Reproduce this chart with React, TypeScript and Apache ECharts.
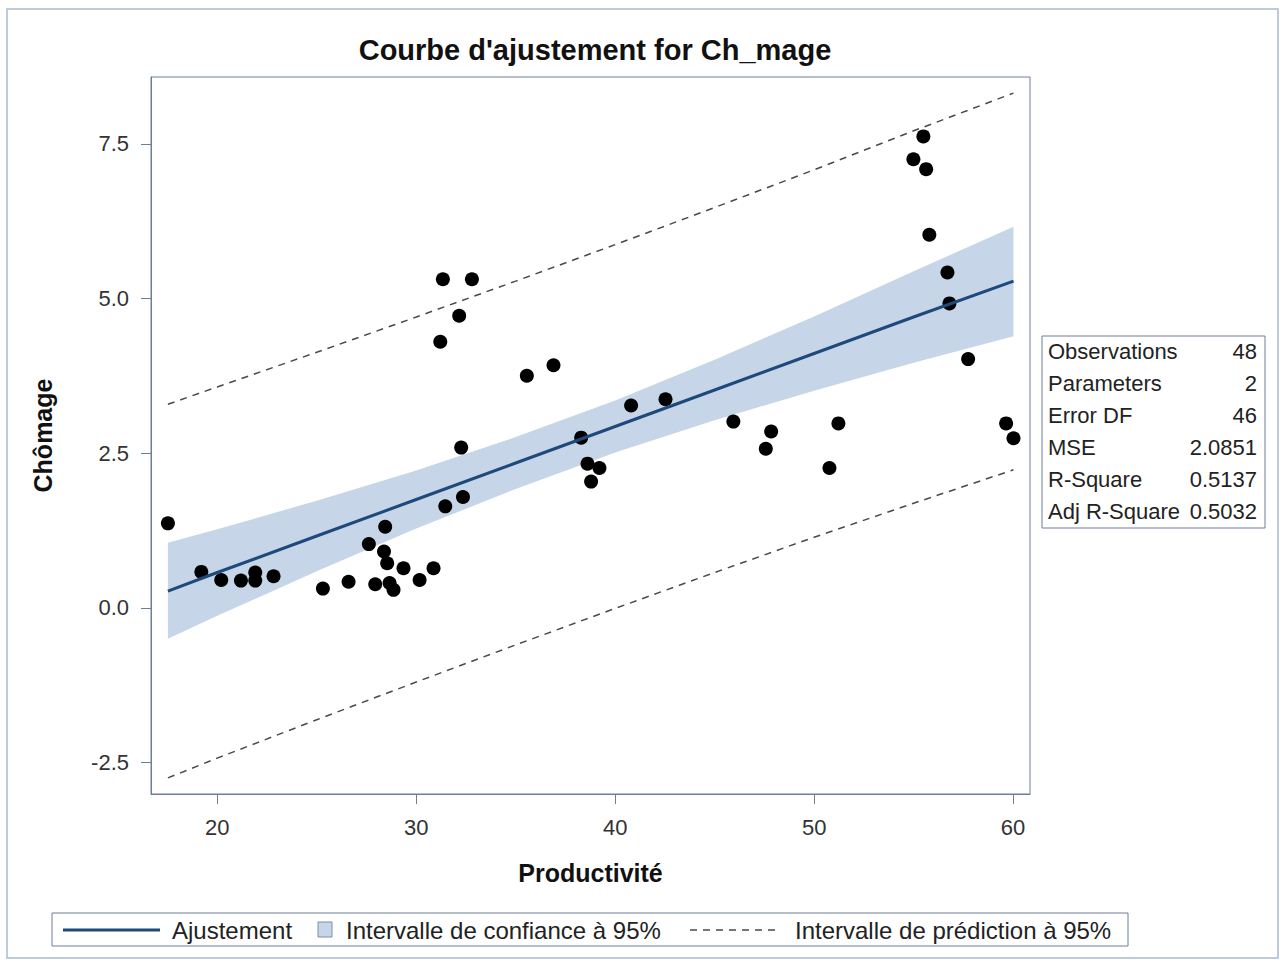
import React, { useEffect, useRef } from "react";
import * as echarts from "echarts";

// Observations (Productivité, Chômage)
const productivite = [
  17.52, 19.2, 20.2, 21.19, 21.91, 21.91, 22.83, 25.31, 26.6, 27.62,
  27.94, 28.38, 28.44, 28.54, 28.66, 28.86, 29.36, 30.17, 30.87, 31.21,
  31.34, 31.46, 32.16, 32.26, 32.35, 32.8, 35.56, 36.9, 38.29, 38.61,
  39.21, 38.79, 40.8, 42.53, 45.94, 47.84, 47.57, 50.77, 51.22, 55.49,
  54.99, 55.63, 55.79, 56.7, 56.8, 57.74, 59.65, 60.02,
];
const chomage = [
  1.365, 0.58, 0.45, 0.44, 0.57, 0.44, 0.51, 0.31, 0.42, 1.03,
  0.38, 0.91, 1.31, 0.72, 0.4, 0.29, 0.64, 0.45, 0.64, 4.3,
  5.31, 1.64, 4.72, 2.59, 1.79, 5.31, 3.75, 3.92, 2.75, 2.33,
  2.26, 2.04, 3.27, 3.37, 3.01, 2.85, 2.57, 2.26, 2.98, 7.62,
  7.25, 7.09, 6.03, 5.42, 4.92, 4.02, 2.98, 2.74,
];

// Fit curve and bands read at these x positions
const fitX = [17.52, 20, 25, 30, 35, 40, 45, 50, 55, 60.02];
const fitY = [0.27, 0.57, 1.16, 1.75, 2.34, 2.93, 3.52, 4.11, 4.7, 5.28];
const clLow = [-0.5, -0.13, 0.59, 1.28, 1.92, 2.51, 3.03, 3.51, 3.96, 4.39];
const clUp = [1.05, 1.27, 1.73, 2.22, 2.76, 3.35, 4.01, 4.71, 5.44, 6.16];
const plLow = [-2.75, -2.43, -1.81, -1.2, -0.6, -0.01, 0.57, 1.14, 1.69, 2.23];
const plUp = [3.29, 3.57, 4.13, 4.7, 5.28, 5.87, 6.47, 7.08, 7.71, 8.32];

const xTicks = [20, 30, 40, 50, 60];
const yTicks = [-2.5, 0, 2.5, 5, 7.5];

const statLabels = ["Observations", "Parameters", "Error DF", "MSE", "R-Square", "Adj R-Square"];
const statValues = ["48", "2", "46", "2.0851", "0.5137", "0.5032"];

const legendLabels = ["Ajustement", "Intervalle de confiance à 95%", "Intervalle de prédiction à 95%"];

const FONT = "'Liberation Sans', Arial, sans-serif";
const FRAME = "#6c7f96";
const FIT_COLOR = "#1d4a7b";
const BAND_COLOR = "#c6d5e7";
const DASH_COLOR = "#4a4a4a";

export default function App() {
  const ref = useRef<HTMLDivElement>(null);

  useEffect(() => {
    if (!ref.current) return;
    const chart = echarts.init(ref.current, null, { renderer: "svg" });

    const gridLeft = 151;
    const gridTop = 77;
    const gridW = 879;
    const gridH = 717;

    const statTop = 336;
    const statRowH = 32;

    const graphic: any[] = [
      // outer frame
      {
        type: "rect",
        shape: { x: 7, y: 9, width: 1271, height: 949 },
        style: { fill: "none", stroke: "#a8bbd0", lineWidth: 1.5 },
        silent: true,
      },
      // stats box
      {
        type: "rect",
        shape: { x: 1042, y: statTop, width: 223, height: statRowH * statLabels.length },
        style: { fill: "#fff", stroke: FRAME, lineWidth: 1 },
        z: 10,
      },
      ...statLabels.map((t, i) => ({
        type: "text",
        x: 1048,
        y: statTop + 15 + i * statRowH,
        z: 11,
        style: { text: t, font: `22px ${FONT}`, fill: "#222", textVerticalAlign: "middle", textAlign: "left" },
      })),
      ...statValues.map((t, i) => ({
        type: "text",
        x: 1257,
        y: statTop + 15 + i * statRowH,
        z: 11,
        style: { text: t, font: `22px ${FONT}`, fill: "#222", textVerticalAlign: "middle", textAlign: "right" },
      })),
      // legend box
      {
        type: "rect",
        shape: { x: 52, y: 913, width: 1076, height: 33 },
        style: { fill: "#fff", stroke: FRAME, lineWidth: 1 },
      },
      {
        type: "line",
        shape: { x1: 63, y1: 930, x2: 160, y2: 930 },
        style: { stroke: FIT_COLOR, lineWidth: 3 },
      },
      {
        type: "text",
        x: 172,
        y: 930,
        style: { text: legendLabels[0], font: `24px ${FONT}`, fill: "#222", textVerticalAlign: "middle" },
      },
      {
        type: "rect",
        shape: { x: 318, y: 922, width: 14, height: 15 },
        style: { fill: BAND_COLOR, stroke: "#7a90ab", lineWidth: 1 },
      },
      {
        type: "text",
        x: 346,
        y: 930,
        style: { text: legendLabels[1], font: `24px ${FONT}`, fill: "#222", textVerticalAlign: "middle" },
      },
      {
        type: "line",
        shape: { x1: 690, y1: 930, x2: 777, y2: 930 },
        style: { stroke: DASH_COLOR, lineWidth: 1.5, lineDash: [7, 6] },
      },
      {
        type: "text",
        x: 795,
        y: 930,
        style: { text: legendLabels[2], font: `24px ${FONT}`, fill: "#222", textVerticalAlign: "middle" },
      },
    ];

    const option: any = {
      animation: false,
      backgroundColor: "#ffffff",
      title: {
        text: "Courbe d'ajustement for Ch_mage",
        left: 590,
        textAlign: "center",
        top: 30,
        textStyle: { fontFamily: FONT, fontSize: 29, fontWeight: "bold", color: "#111" },
      },
      grid: {
        left: gridLeft,
        top: gridTop,
        width: gridW,
        height: gridH,
        show: true,
        borderColor: FRAME,
        borderWidth: 1,
        backgroundColor: "#fff",
        outerBoundsMode: "none",
        containLabel: false,
      },
      xAxis: {
        type: "value",
        min: 16.67,
        max: 60.85,
        name: "Productivité",
        nameLocation: "middle",
        nameGap: 66,
        nameTextStyle: { fontFamily: FONT, fontSize: 25, fontWeight: "bold", color: "#111", verticalAlign: "top" },
        axisLine: { show: true, onZero: false, lineStyle: { color: FRAME, width: 1 } },
        axisTick: { show: true, length: 10, lineStyle: { color: FRAME }, customValues: xTicks },
        axisLabel: { customValues: xTicks, margin: 22, fontFamily: FONT, fontSize: 22, color: "#333" },
        splitLine: { show: false },
      },
      yAxis: {
        type: "value",
        min: -3.01,
        max: 8.58,
        name: "Chômage",
        nameLocation: "middle",
        nameGap: 96,
        nameTextStyle: { fontFamily: FONT, fontSize: 25, fontWeight: "bold", color: "#111" },
        axisLine: { show: true, onZero: false, lineStyle: { color: FRAME, width: 1 } },
        axisTick: { show: true, length: 10, lineStyle: { color: FRAME }, customValues: yTicks },
        axisLabel: {
          customValues: yTicks,
          margin: 22,
          fontFamily: FONT,
          fontSize: 22,
          color: "#333",
          formatter: (v: number) => v.toFixed(1),
        },
        splitLine: { show: false },
      },
      series: [
        {
          type: "custom",
          name: legendLabels[1],
          silent: true,
          z: 1,
          clip: true,
          data: fitX.map((x, i) => [x, clLow[i], clUp[i]]),
          encode: { x: 0, y: [1, 2] },
          renderItem: (params: any, api: any) => {
            if (params.dataIndex !== 0) return null;
            const pts: number[][] = [];
            for (let i = 0; i < fitX.length; i++) pts.push(api.coord([fitX[i], clUp[i]]));
            for (let i = fitX.length - 1; i >= 0; i--) pts.push(api.coord([fitX[i], clLow[i]]));
            return { type: "polygon", shape: { points: pts }, style: { fill: BAND_COLOR } };
          },
        },
        {
          type: "scatter",
          name: "Observations",
          z: 3,
          symbol: "circle",
          symbolSize: 14,
          itemStyle: { color: "#000", opacity: 1 },
          data: productivite.map((x, i) => [x, chomage[i]]),
        },
        {
          type: "line",
          name: legendLabels[0],
          z: 4,
          showSymbol: false,
          symbol: "none",
          lineStyle: { color: FIT_COLOR, width: 3 },
          data: fitX.map((x, i) => [x, fitY[i]]),
        },
        {
          type: "line",
          name: legendLabels[2],
          z: 4,
          symbol: "none",
          lineStyle: { color: DASH_COLOR, width: 1.5, type: [7, 6] },
          data: fitX.map((x, i) => [x, plUp[i]]),
        },
        {
          type: "line",
          name: legendLabels[2] + " ",
          z: 4,
          symbol: "none",
          lineStyle: { color: DASH_COLOR, width: 1.5, type: [7, 6] },
          data: fitX.map((x, i) => [x, plLow[i]]),
        },
      ],
      graphic,
    };

    chart.setOption(option);
    return () => chart.dispose();
  }, []);

  return (
    <div
      ref={ref}
      style={{ position: "fixed", left: 0, top: 0, width: 1284, height: 964, background: "#fff" }}
    />
  );
}
